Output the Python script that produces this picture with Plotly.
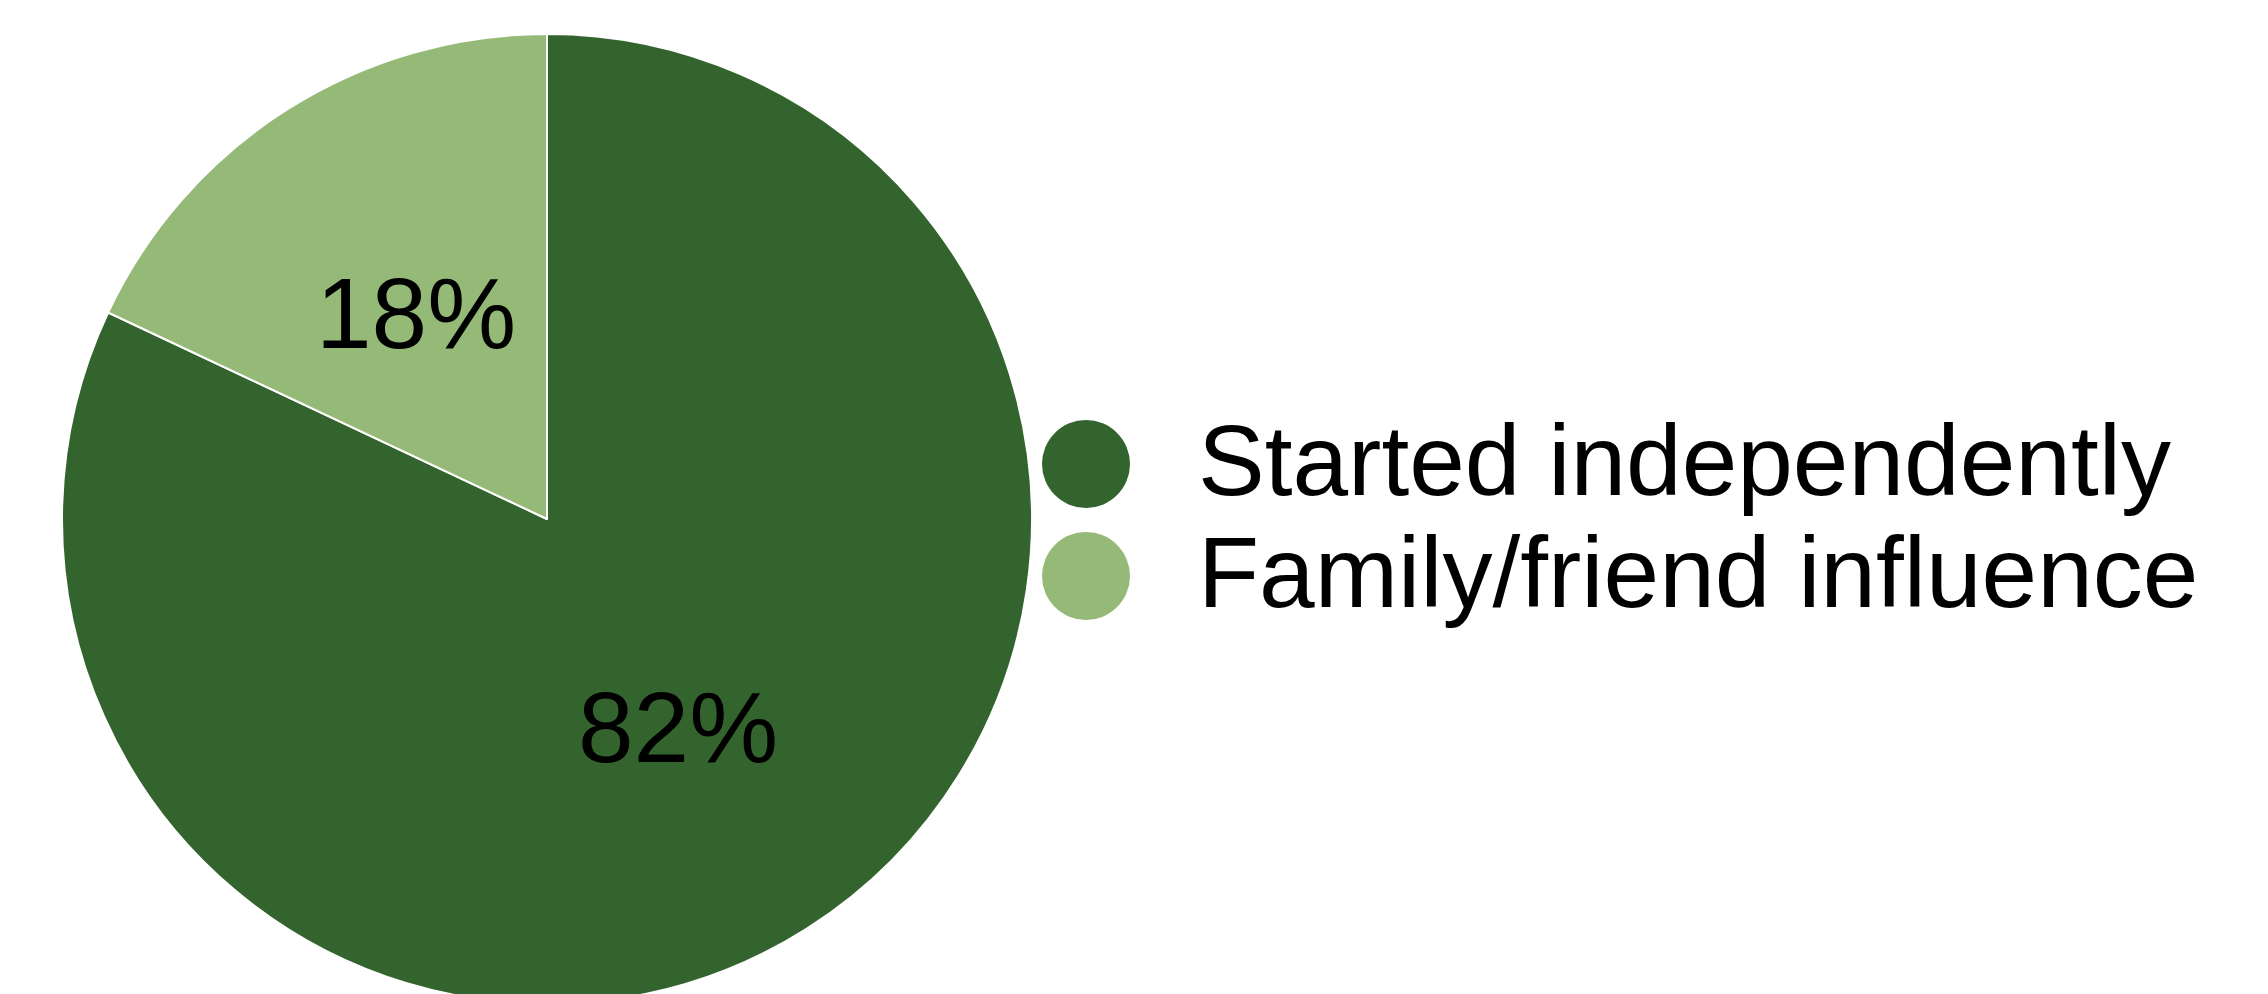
import math
import plotly.graph_objects as go

categories = ["Started independently", "Family/friend influence"]
values = [82, 18]
colors = ["#34642D", "#95B977"]

W, H = 2268, 1004
FONT = "Liberation Sans, Arial, sans-serif"

# pie geometry in pixel space (matches domain below)
CX, CY, R = 547, 519, 485

fig = go.Figure()
fig.add_trace(go.Pie(
    labels=categories, values=values, sort=False, direction="clockwise", rotation=0,
    marker=dict(colors=colors, line=dict(color="white", width=2)),
    textinfo="none",
    domain=dict(x=[(CX - R) / W, (CX + R) / W], y=[0, 1]),
    showlegend=False, hoverinfo="skip",
))

# percentage labels at half radius along each slice bisector
total = sum(values)
cum = 0
for v in values:
    theta = 2 * math.pi * (cum + v / 2) / total
    cum += v
    lx = CX + 0.505 * R * math.sin(theta)
    ly = CY - 0.505 * R * math.cos(theta)
    fig.add_annotation(x=lx, y=ly + 1, xref="x", yref="y", text=f"{round(100 * v / total)}%",
                       showarrow=False, xanchor="center", yanchor="middle",
                       font=dict(family=FONT, size=100, color="black"))

# custom legend with large circular markers
leg_x = 1086
leg_y = [464, 576]
fig.add_trace(go.Scatter(
    x=[leg_x] * len(categories), y=leg_y, mode="markers",
    marker=dict(size=88, color=colors, line=dict(width=0)),
    showlegend=False, hoverinfo="skip",
))
for cat, y in zip(categories, leg_y):
    fig.add_annotation(x=1196, y=y - 4, xref="x", yref="y", text=cat, showarrow=False,
                       xanchor="left", yanchor="middle",
                       font=dict(family=FONT, size=100, color="black"))

fig.update_xaxes(range=[0, W], visible=False, fixedrange=True)
fig.update_yaxes(range=[H, 34], visible=False, fixedrange=True)
fig.update_layout(
    width=W, height=H, margin=dict(l=0, r=0, t=34, b=0, pad=0),
    paper_bgcolor="white", plot_bgcolor="rgba(0,0,0,0)", showlegend=False,
)
fig.write_html("out.html", post_script="document.documentElement.style.overflow='hidden';document.body.style.overflow='hidden';document.body.style.margin='0';")
